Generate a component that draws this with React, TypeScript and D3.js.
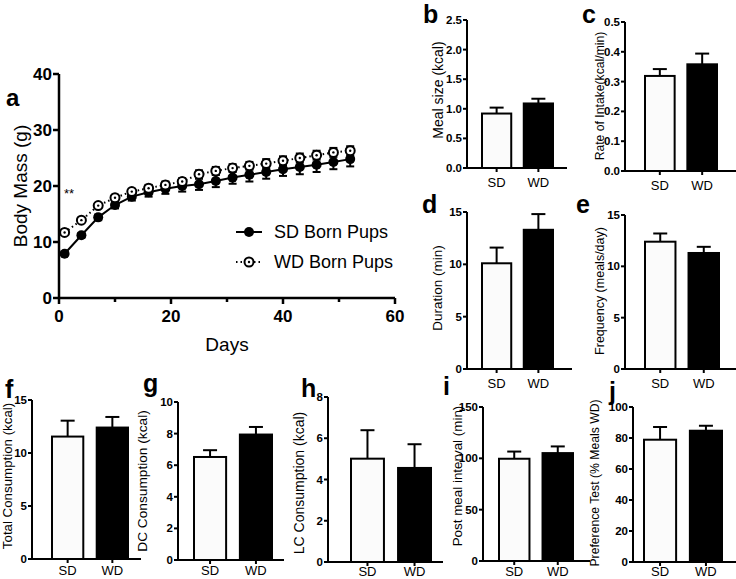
import React from "react";
import * as d3 from "d3";

const FONT = "Arial, 'Liberation Sans', sans-serif";

// panel a: body mass over days
const days = [1, 4, 7, 10, 13, 16, 19, 22, 25, 28, 31, 34, 37, 40, 43, 46, 49, 52];
const sdMass = [7.9, 11.2, 14.4, 16.6, 18.1, 18.9, 19.5, 20.0, 20.3, 20.9, 21.5, 22.0, 22.5, 23.0, 23.4, 23.8, 24.3, 24.8];
const wdMass = [11.7, 13.9, 16.5, 17.9, 19.0, 19.6, 20.2, 20.8, 22.1, 22.7, 23.2, 23.6, 24.0, 24.5, 25.0, 25.5, 26.0, 26.3];
const sdMassErr = [0.3, 0.4, 0.5, 0.6, 0.7, 0.8, 0.9, 1.0, 1.0, 1.1, 1.1, 1.2, 1.2, 1.2, 1.3, 1.3, 1.3, 1.3];
const wdMassErr = [0.3, 0.3, 0.4, 0.5, 0.5, 0.6, 0.6, 0.6, 0.7, 0.7, 0.7, 0.7, 0.8, 0.8, 0.8, 0.8, 0.8, 0.8];
const massTicks = [0, 10, 20, 30, 40];
const dayTicks = [0, 20, 40, 60];
const dayMinorTicks = [10, 30, 50];
const seriesNames = ["SD Born Pups", "WD Born Pups"];

// bar panels b-j
const groups = ["SD", "WD"];
const mealSize = [0.92, 1.09];
const mealSizeErr = [0.1, 0.08];
const intakeRate = [0.319, 0.358];
const intakeRateErr = [0.023, 0.036];
const duration = [10.1, 13.3];
const durationErr = [1.5, 1.5];
const frequency = [12.4, 11.3];
const frequencyErr = [0.8, 0.6];
const totalCons = [11.55, 12.4];
const totalConsErr = [1.5, 1.0];
const dcCons = [6.52, 7.94];
const dcConsErr = [0.43, 0.48];
const lcCons = [5.01, 4.56];
const lcConsErr = [1.38, 1.15];
const postMeal = [99.6, 105.1];
const postMealErr = [7, 6.5];
const preference = [78.9, 84.7];
const preferenceErr = [8.2, 3.2];

type BarPanelProps = {
  letter: string; yLabel: string; labelSize: number;
  values: number[]; errs: number[]; yMax: number; ticks: number[]; fmt: string;
  axisX: number; yTop: number; yBottom: number; barL: number; barR: number; axisEnd: number;
  letterX: number; letterY: number; labelX: number; labelY: number; catOffset: number;
};

const BarPanel = (p: BarPanelProps) => {
  const y = d3.scaleLinear().domain([0, p.yMax]).range([p.yBottom, p.yTop]);
  const x = d3.scaleBand().domain(groups).range([p.barL, p.barR]).paddingInner(0.3).paddingOuter(0);
  const f = d3.format(p.fmt);
  const bw = x.bandwidth();
  return (
    <g>
      <text x={p.letterX} y={p.letterY} fontSize={25} fontWeight="bold" fontFamily={FONT}>{p.letter}</text>
      <text transform={`translate(${p.labelX},${p.labelY}) rotate(-90)`} textAnchor="middle" dy="0.35em"
        fontSize={p.labelSize} fontFamily={FONT}>{p.yLabel}</text>
      {p.values.map((v, i) => {
        const cx = x(groups[i])! + bw / 2;
        const top = y(v + p.errs[i]);
        return (
          <g key={i}>
            <line x1={cx} x2={cx} y1={y(v)} y2={top} stroke="#000" strokeWidth={2} />
            <line x1={cx - 7} x2={cx + 7} y1={top} y2={top} stroke="#000" strokeWidth={2} />
            <rect x={x(groups[i])} y={y(v)} width={bw} height={y(0) - y(v)}
              fill={i === 0 ? "#fbfbfb" : "#000"} stroke="#000" strokeWidth={2} />
          </g>
        );
      })}
      <line x1={p.axisX} x2={p.axisX} y1={p.yTop} y2={p.yBottom} stroke="#000" strokeWidth={2} />
      <line x1={p.axisX - 1} x2={p.axisEnd} y1={p.yBottom} y2={p.yBottom} stroke="#000" strokeWidth={2} />
      {p.ticks.map(t => (
        <g key={t}>
          <line x1={p.axisX - 4} x2={p.axisX} y1={y(t)} y2={y(t)} stroke="#000" strokeWidth={2} />
          <text x={p.axisX - 5} y={y(t)} dy="0.35em" textAnchor="end" fontSize={11.5} fontWeight="bold"
            fontFamily={FONT}>{f(t)}</text>
        </g>
      ))}
      {groups.map(g => {
        const cx = x(g)! + bw / 2;
        return (
          <g key={g}>
            <line x1={cx} x2={cx} y1={p.yBottom} y2={p.yBottom + 4} stroke="#000" strokeWidth={2} />
            <text x={cx} y={p.yBottom + p.catOffset} textAnchor="middle" fontSize={13} fontFamily={FONT}>{g}</text>
          </g>
        );
      })}
    </g>
  );
};

const MassPanel = () => {
  const x = d3.scaleLinear().domain([0, 60]).range([59, 395]);
  const y = d3.scaleLinear().domain([0, 40]).range([298, 74]);
  const line = d3.line<number>().x((_, i) => x(days[i])).y(d => y(d));
  const errBars = (vals: number[], errs: number[], key: string) =>
    vals.map((v, i) => {
      const cx = x(days[i]);
      const lo = y(v - errs[i]), hi = y(v + errs[i]);
      return (
        <g key={key + i}>
          <line x1={cx} x2={cx} y1={lo} y2={hi} stroke="#000" strokeWidth={2} />
          <line x1={cx - 4} x2={cx + 4} y1={lo} y2={lo} stroke="#000" strokeWidth={2} />
          <line x1={cx - 4} x2={cx + 4} y1={hi} y2={hi} stroke="#000" strokeWidth={2} />
        </g>
      );
    });
  return (
    <g>
      <text x={6} y={106} fontSize={24} fontWeight="bold" fontFamily={FONT}>a</text>
      <text transform="translate(20,186) rotate(-90)" textAnchor="middle" dy="0.35em" fontSize={19}
        fontFamily={FONT}>Body Mass (g)</text>
      <text x={227} y={351} textAnchor="middle" fontSize={19} fontFamily={FONT}>Days</text>
      <line x1={59} x2={59} y1={74} y2={298} stroke="#000" strokeWidth={2.5} />
      <line x1={58} x2={395} y1={298} y2={298} stroke="#000" strokeWidth={2.5} />
      {massTicks.map(t => (
        <g key={t}>
          <line x1={53} x2={59} y1={y(t)} y2={y(t)} stroke="#000" strokeWidth={2.5} />
          <text x={52} y={y(t)} dy="0.35em" textAnchor="end" fontSize={17} fontWeight="bold"
            fontFamily={FONT}>{t}</text>
        </g>
      ))}
      {dayTicks.map(t => (
        <g key={t}>
          <line x1={x(t)} x2={x(t)} y1={298} y2={304} stroke="#000" strokeWidth={2.5} />
          <text x={x(t)} y={322} textAnchor="middle" fontSize={17} fontWeight="bold" fontFamily={FONT}>{t}</text>
        </g>
      ))}
      {dayMinorTicks.map(t => (
        <line key={t} x1={x(t)} x2={x(t)} y1={298} y2={302} stroke="#000" strokeWidth={2.5} />
      ))}
      <text x={64} y={198} fontSize={13} fontFamily={FONT}>**</text>
      {errBars(sdMass, sdMassErr, "sd")}
      <path d={line(sdMass)!} fill="none" stroke="#000" strokeWidth={2} />
      {sdMass.map((v, i) => <circle key={i} cx={x(days[i])} cy={y(v)} r={5} fill="#000" />)}
      {errBars(wdMass, wdMassErr, "wd")}
      <path d={line(wdMass)!} fill="none" stroke="#000" strokeWidth={2} strokeDasharray="1.5,3" />
      {wdMass.map((v, i) => (
        <g key={i}>
          <circle cx={x(days[i])} cy={y(v)} r={4.5} fill="#fff" stroke="#000" strokeWidth={2} />
          <circle cx={x(days[i])} cy={y(v)} r={1.2} fill="#000" />
        </g>
      ))}
      {/* legend */}
      <line x1={236} x2={262} y1={232} y2={232} stroke="#000" strokeWidth={2} />
      <circle cx={249} cy={232} r={5} fill="#000" />
      <text x={274} y={232} dy="0.35em" fontSize={18} fontFamily={FONT}>{seriesNames[0]}</text>
      <line x1={236} x2={262} y1={262} y2={262} stroke="#000" strokeWidth={2} strokeDasharray="1.5,3" />
      <circle cx={249} cy={262} r={4.5} fill="#fff" stroke="#000" strokeWidth={2} />
      <circle cx={249} cy={262} r={1.2} fill="#000" />
      <text x={274} y={262} dy="0.35em" fontSize={18} fontFamily={FONT}>{seriesNames[1]}</text>
    </g>
  );
};

const range = (max: number, step: number) => d3.range(0, max + step / 2, step);

export default function App() {
  return (
    <svg width={736} height={579} style={{ position: "absolute", left: 0, top: 0, background: "#fff" }}>
      <rect width={736} height={579} fill="#fff" />
      <MassPanel />
      <BarPanel letter="b" yLabel="Meal size (kcal)" labelSize={14} values={mealSize} errs={mealSizeErr}
        yMax={2.5} ticks={range(2.5, 0.5)} fmt=".1f" axisX={467} yTop={20} yBottom={168}
        barL={482} barR={553} axisEnd={567} letterX={423} letterY={23} labelX={438} labelY={90} catOffset={19} />
      <BarPanel letter="c" yLabel="Rate of Intake(kcal/min)" labelSize={12.2} values={intakeRate} errs={intakeRateErr}
        yMax={0.5} ticks={range(0.5, 0.1)} fmt=".1f" axisX={625} yTop={22} yBottom={171}
        barL={645} barR={717} axisEnd={736} letterX={582} letterY={23} labelX={600} labelY={96} catOffset={19} />
      <BarPanel letter="d" yLabel="Duration (min)" labelSize={13.5} values={duration} errs={durationErr}
        yMax={15} ticks={range(15, 5)} fmt="d" axisX={467} yTop={212} yBottom={369}
        barL={482} barR={553} axisEnd={572} letterX={422} letterY={213} labelX={437} labelY={288} catOffset={19} />
      <BarPanel letter="e" yLabel="Frequency (meals/day)" labelSize={12.5} values={frequency} errs={frequencyErr}
        yMax={15} ticks={range(15, 5)} fmt="d" axisX={625} yTop={215} yBottom={369}
        barL={645} barR={719} axisEnd={736} letterX={576} letterY={213} labelX={600} labelY={291} catOffset={19} />
      <BarPanel letter="f" yLabel="Total Consumption (kcal)" labelSize={13.3} values={totalCons} errs={totalConsErr}
        yMax={15} ticks={range(15, 5)} fmt="d" axisX={32} yTop={400} yBottom={559}
        barL={52} barR={128} axisEnd={141} letterX={5} letterY={398} labelX={7} labelY={476} catOffset={15.5} />
      <BarPanel letter="g" yLabel="DC Consumption (kcal)" labelSize={13.7} values={dcCons} errs={dcConsErr}
        yMax={10} ticks={range(10, 2)} fmt="d" axisX={178} yTop={402} yBottom={560}
        barL={194} barR={272} axisEnd={284} letterX={143} letterY={392} labelX={142} labelY={481} catOffset={15} />
      <BarPanel letter="h" yLabel="LC Consumption (kcal)" labelSize={14} values={lcCons} errs={lcConsErr}
        yMax={8} ticks={range(8, 2)} fmt="d" axisX={328} yTop={397} yBottom={562}
        barL={351} barR={431} axisEnd={443} letterX={301} letterY={397} labelX={299} labelY={483} catOffset={13.5} />
      <BarPanel letter="i" yLabel="Post meal interval (min)" labelSize={13.4} values={postMeal} errs={postMealErr}
        yMax={150} ticks={range(150, 50)} fmt="d" axisX={483} yTop={407} yBottom={561}
        barL={499} barR={573} axisEnd={590} letterX={443} letterY={395} labelX={457} labelY={476} catOffset={14.5} />
      <BarPanel letter="j" yLabel="Preference Test (% Meals WD)" labelSize={12.2} values={preference} errs={preferenceErr}
        yMax={100} ticks={range(100, 20)} fmt="d" axisX={633} yTop={407} yBottom={562}
        barL={644} barR={722} axisEnd={736} letterX={609} letterY={400} labelX={595} labelY={483} catOffset={13.5} />
    </svg>
  );
}
